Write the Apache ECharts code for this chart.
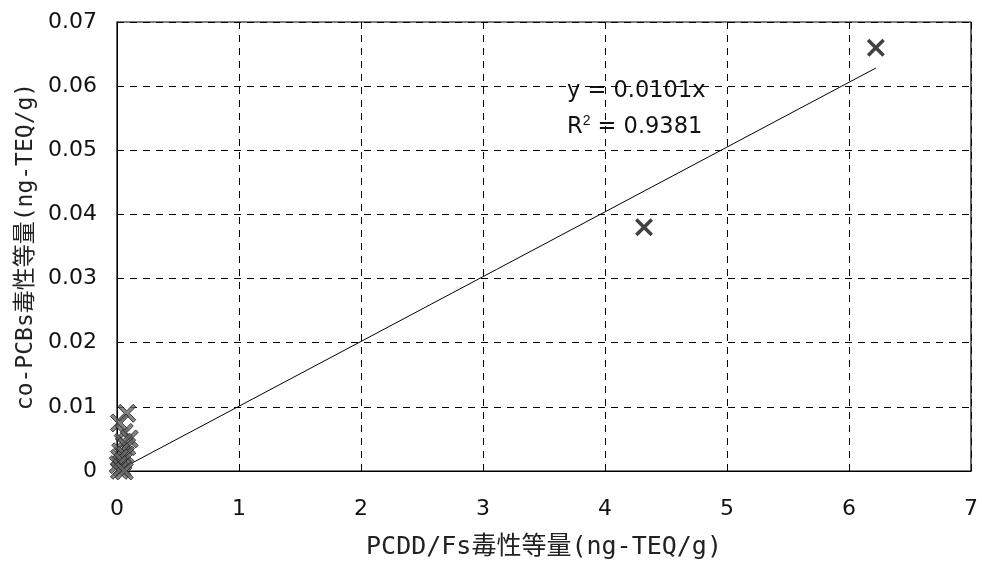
<!DOCTYPE html>
<html><head><meta charset="utf-8">
<script src="https://cdn.jsdelivr.net/npm/echarts@6/dist/echarts.min.js"></script>
<style>html,body{margin:0;padding:0;background:#fff}#c{width:982px;height:568px}</style>
</head><body><div id="c"></div>
<script>
const xTicks = [0,1,2,3,4,5,6,7];
const yTicks = [0,0.01,0.02,0.03,0.04,0.05,0.06,0.07];
const outX = [6.22, 4.32];
const outY = [0.066, 0.038];
const clusterX = [0.08, 0.02, 0.06, 0.10, 0.05, 0.08, 0.03, 0.07, 0.02, 0.05, 0.01, 0.04, 0.02, 0.06];
const clusterY = [0.009, 0.0075, 0.006, 0.005, 0.0045, 0.0038, 0.003, 0.0025, 0.002, 0.0015, 0.001, 0.0005, 0.0001, 0.0];
const slope = 0.0101;
const trendX = [0, 6.22];
const xName = 'PCDD/Fs毒性等量(ng-TEQ/g)';
const yName = 'co-PCBs毒性等量(ng-TEQ/g)';
const eqText = 'y = 0.0101x';
const r2Text = 'R{sup|2} = 0.9381';

const outPts = outX.map((x,i)=>[x,outY[i]]);
const clPts = clusterX.map((x,i)=>[x,clusterY[i]]);
const trend = trendX.map(x=>[x, slope*x]);
const xSym = 'path://M0,1.4L1.4,0L5,3.6L8.6,0L10,1.4L6.4,5L10,8.6L8.6,10L5,6.4L1.4,10L0,8.6L3.6,5Z';
const font = '"DejaVu Sans", "Noto Sans CJK JP", sans-serif';
const nameFont = '"DejaVu Sans Mono", "Noto Sans CJK JP", monospace';
const chart = echarts.init(document.getElementById('c'));
chart.setOption({
  animation:false,
  backgroundColor:'#fff',
  grid:{left:117,right:11,top:22,bottom:97,show:true,borderColor:'#000',borderWidth:1.2},
  xAxis:{type:'value',min:0,max:7,interval:1,
    name:xName,nameLocation:'middle',nameGap:64,
    nameTextStyle:{fontSize:25,color:'#222',fontFamily:nameFont},
    axisLine:{show:true,lineStyle:{color:'#000'}},
    axisTick:{show:false},
    axisLabel:{fontSize:22,color:'#111',margin:27,fontFamily:font},
    splitLine:{show:true,lineStyle:{color:'#000',type:[7,6],width:1}}},
  yAxis:{type:'value',min:0,max:0.07,interval:0.01,
    name:yName,nameLocation:'middle',nameGap:79,
    nameTextStyle:{fontSize:23,color:'#222',fontFamily:nameFont},
    axisLine:{show:true,lineStyle:{color:'#000'}},
    axisTick:{show:false},
    axisLabel:{fontSize:22,color:'#111',margin:20,fontFamily:font,formatter:v=>String(Math.round(v*100)/100)},
    splitLine:{show:true,lineStyle:{color:'#000',type:[7,6],width:1}}},
  series:[
    {type:'line',data:trend,symbol:'none',lineStyle:{color:'#000',width:1},z:2},
    {type:'scatter',data:clPts,symbol:xSym,symbolSize:18,itemStyle:{color:'#666',borderColor:'#222',borderWidth:1},z:3},
    {type:'scatter',data:outPts,symbol:xSym,symbolSize:18,itemStyle:{color:'#111'},z:3},
  ],
  graphic:[
    {type:'text',left:567,top:80,style:{text:eqText,fontSize:22.5,fill:'#111',fontFamily:font}},
    {type:'text',left:567,top:114,style:{text:r2Text,fontSize:22.5,fill:'#111',fontFamily:font,
      rich:{sup:{fontSize:14,verticalAlign:'top',padding:[0,0,12,0],fill:'#111'}}}}
  ]
});
</script></body></html>
